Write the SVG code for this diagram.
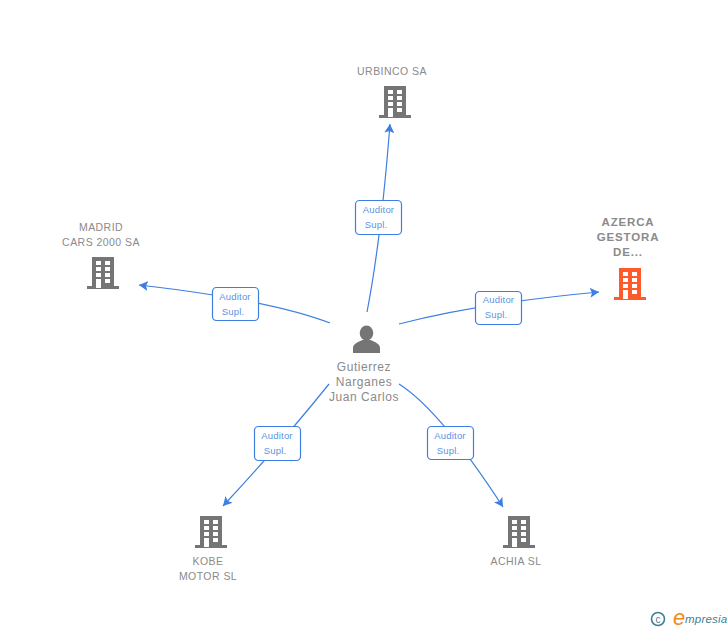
<svg xmlns="http://www.w3.org/2000/svg" width="728" height="630" viewBox="0 0 728 630">
<style>
text{font-family:"Liberation Sans",Arial,sans-serif}
.n{font-size:10.5px;letter-spacing:.45px;fill:#8a8a8a;text-anchor:middle}
.nb{font-size:11.5px;letter-spacing:.85px;fill:#8a8a8a;text-anchor:middle;font-weight:bold}
.p{font-size:12px;letter-spacing:.55px;fill:#8a8a8a;text-anchor:middle}
.e{font-size:9.5px;letter-spacing:.2px;fill:#5a93e4;text-anchor:middle}
.c{fill:none;stroke:#3d7fe0;stroke-width:1.2;marker-end:url(#a)}
.l{fill:#fff;stroke:#3d7fe0;stroke-width:1.2}
</style>
<defs>
<marker id="a" markerUnits="userSpaceOnUse" markerWidth="11" markerHeight="10" refX="9" refY="5" orient="auto"><path d="M0 0L9 5L0 10L2 5Z" fill="#3d7fe0"/></marker>
<g id="b"><path fill-rule="evenodd" d="M-11 -16H11V13H16V16H-16V13H-11ZM-7 -12V-8H-2V-12ZM2 -12V-8H7V-12ZM-7 -6V-2H-2V-6ZM2 -6V-2H7V-6ZM-7 0V4H-2V0ZM2 0V4H7V0ZM-7 6V15H-2V6ZM2 6V10H7V6Z"/></g>
</defs>
<g id="connectors">
<path class="c" d="M367 312Q381 240 390 124"/>
<path class="c" d="M330 323Q270 300 139 285"/>
<path class="c" d="M399 324Q480 303 599 292"/>
<path class="c" d="M329 384Q280 445 223 506"/>
<path class="c" d="M399 384Q440 410 503 507"/>
</g>
<g id="edge-labels">
<rect class="l" x="355.500" y="200.500" width="46" height="34" rx="4"/><text class="e" x="378.500" y="213">Auditor</text><text class="e" x="376" y="228">Supl.</text>
<rect class="l" x="212.500" y="287.500" width="46" height="33" rx="4"/><text class="e" x="235" y="300">Auditor</text><text class="e" x="233" y="315">Supl.</text>
<rect class="l" x="475.500" y="291.500" width="46" height="33" rx="4"/><text class="e" x="498.500" y="303">Auditor</text><text class="e" x="496" y="318">Supl.</text>
<rect class="l" x="254.500" y="426.500" width="46" height="34" rx="4"/><text class="e" x="277" y="439">Auditor</text><text class="e" x="275" y="454">Supl.</text>
<rect class="l" x="427.500" y="426.500" width="46" height="33" rx="4"/><text class="e" x="450" y="439">Auditor</text><text class="e" x="448" y="454">Supl.</text>
</g>
<g id="urbinco"><use href="#b" x="395" y="102" fill="#757575"/><text class="n" x="392" y="75">URBINCO SA</text></g>
<g id="madrid"><use href="#b" x="103" y="273" fill="#757575"/><text class="n" x="101" y="231">MADRID</text><text class="n" x="101" y="246">CARS 2000 SA</text></g>
<g id="azerca"><use href="#b" x="630" y="284" fill="#ff5a2c"/><text class="nb" x="628" y="226">AZERCA</text><text class="nb" x="628" y="241">GESTORA</text><text class="nb" x="628" y="256">DE...</text></g>
<g id="kobe"><use href="#b" x="211" y="532" fill="#757575"/><text class="n" x="208" y="565">KOBE</text><text class="n" x="208" y="580">MOTOR SL</text></g>
<g id="achia"><use href="#b" x="519" y="532" fill="#757575"/><text class="n" x="516" y="565">ACHIA SL</text></g>
<g id="person"><ellipse cx="366.500" cy="333" rx="6.800" ry="7.500" fill="#757575"/><path fill="#757575" d="M353 353V348C353 344 358 342 362.500 340H370.500C375 342 380 344 380 348V353Z"/><text class="p" x="364" y="371">Gutierrez</text><text class="p" x="364" y="386">Narganes</text><text class="p" x="364" y="401">Juan Carlos</text></g>
<g id="logo"><circle cx="658" cy="619" r="6.500" fill="none" stroke="#3f7f96" stroke-width="1.600"/><text x="658" y="622.500" font-size="10" fill="#3f7f96" text-anchor="middle">c</text><text x="679" y="625" font-size="22" fill="#f28a1c" font-style="italic" text-anchor="middle">e</text><text x="685" y="623" font-size="11.500" letter-spacing=".2" fill="#3f7f96" font-style="italic">mpresia</text></g>
</svg>
